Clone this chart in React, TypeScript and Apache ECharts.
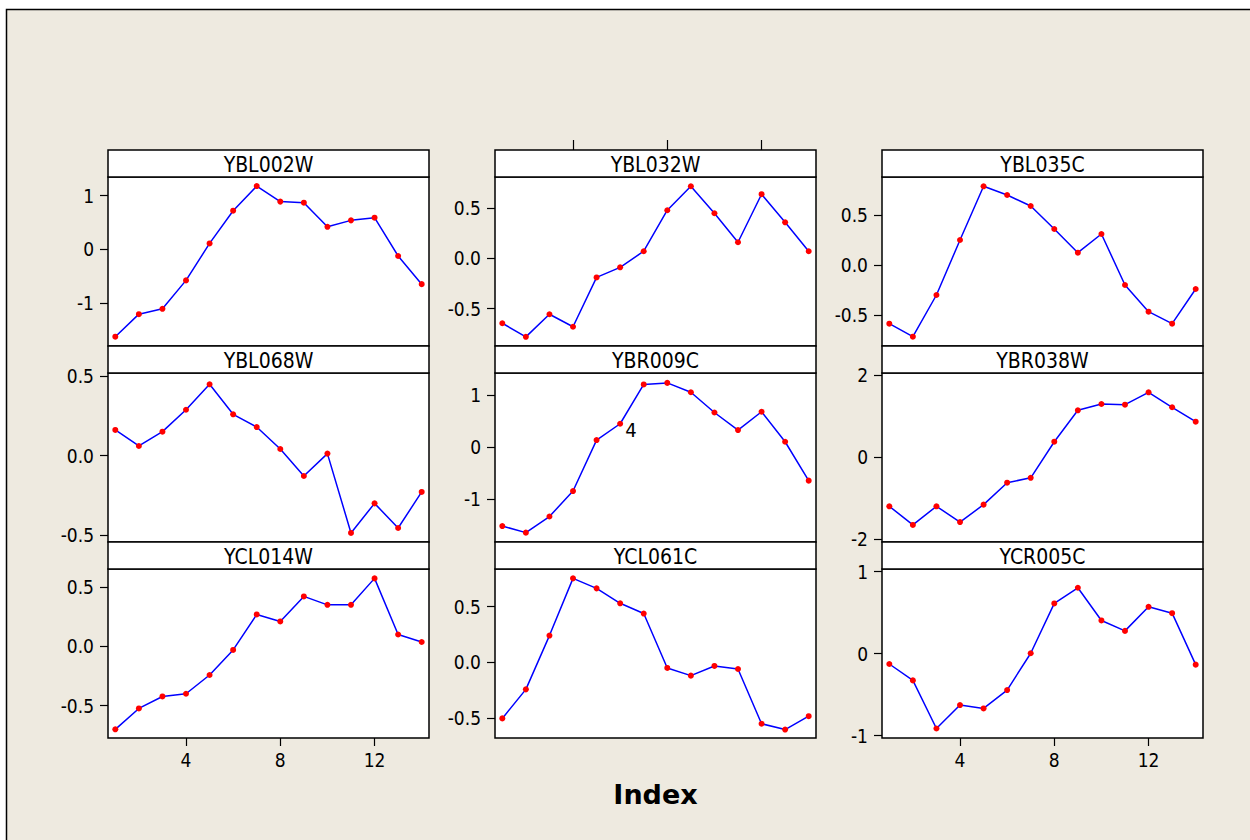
import React, { useEffect, useRef } from "react";
import * as echarts from "echarts";

// ---- data ----
const indexValues = [1, 2, 3, 4, 5, 6, 7, 8, 9, 10, 11, 12, 13, 14];
const panelNames = ["YBL002W", "YBL032W", "YBL035C", "YBL068W", "YBR009C", "YBR038W", "YCL014W", "YCL061C", "YCR005C"];

const ybl002w = [-1.63, -1.21, -1.11, -0.58, 0.11, 0.72, 1.18, 0.89, 0.87, 0.42, 0.54, 0.59, -0.125, -0.65];
const ybl032w = [-0.645, -0.78, -0.556, -0.68, -0.19, -0.09, 0.07, 0.477, 0.715, 0.447, 0.159, 0.636, 0.357, 0.07];
const ybl035c = [-0.587, -0.717, -0.3, 0.25, 0.787, 0.7, 0.59, 0.36, 0.123, 0.31, -0.2, -0.467, -0.587, -0.24];
const ybl068w = [0.162, 0.061, 0.151, 0.289, 0.449, 0.26, 0.18, 0.042, -0.128, 0.013, -0.486, -0.3, -0.455, -0.228];
const ybr009c = [-1.513, -1.64, -1.33, -0.84, 0.14, 0.454, 1.21, 1.24, 1.06, 0.67, 0.333, 0.685, 0.108, -0.64];
const ybr038w = [-1.195, -1.65, -1.195, -1.58, -1.155, -0.62, -0.5, 0.38, 1.146, 1.3, 1.283, 1.585, 1.22, 0.868];
const ycl014w = [-0.7, -0.524, -0.423, -0.4, -0.242, -0.031, 0.268, 0.209, 0.42, 0.349, 0.349, 0.572, 0.099, 0.036];
const ycl061c = [-0.504, -0.243, 0.24, 0.754, 0.664, 0.53, 0.438, -0.051, -0.12, -0.033, -0.06, -0.552, -0.604, -0.484];
const ycr005c = [-0.127, -0.327, -0.914, -0.628, -0.669, -0.445, 0.004, 0.612, 0.803, 0.404, 0.277, 0.571, 0.493, -0.135];

const seriesValues = [ybl002w, ybl032w, ybl035c, ybl068w, ybr009c, ybr038w, ycl014w, ycl061c, ycr005c];

const yMins = [-1.804, -0.871, -0.81, -0.543, -1.82, -2.066, -0.773, -0.68, -1.03];
const yMaxs = [1.349, 0.807, 0.88, 0.52, 1.43, 2.056, 0.651, 0.838, 1.032];
const yTicks = [
  [-1, 0, 1],
  [-0.5, 0, 0.5],
  [-0.5, 0, 0.5],
  [-0.5, 0, 0.5],
  [-1, 0, 1],
  [-2, 0, 2],
  [-0.5, 0, 0.5],
  [-0.5, 0, 0.5],
  [-1, 0, 1],
];
const yDecimals = [0, 1, 1, 1, 0, 0, 1, 1, 0];
const xTicks = [4, 8, 12];
const xMin = 0.69;
const xMax = 14.31;

// annotation on YBR009C point 6
const flagPanel = 4;
const flagIndex = 5;
const flagText = "4";

export default function App() {
  const ref = useRef<HTMLDivElement>(null);

  useEffect(() => {
    if (!ref.current) return;
    const chart = echarts.init(ref.current, undefined, { renderer: "svg" });

    const FONT = "'DejaVu Sans Condensed', 'Liberation Sans', sans-serif";
    const colLefts = [108, 495, 882];
    const titleTops = [150, 346, 542];
    const panelW = 321;
    const titleH = 27;
    const plotH = 169;

    const grids: any[] = [];
    const xAxes: any[] = [];
    const yAxes: any[] = [];
    const series: any[] = [];
    const graphics: any[] = [];

    graphics.push({
      type: "rect",
      z: -10,
      silent: true,
      shape: { x: 6.5, y: 9.5, width: 1400, height: 1000 },
      style: { fill: "#EEEAE0", stroke: "#000", lineWidth: 1.5 },
    });

    for (let i = 0; i < 9; i++) {
      const r = Math.floor(i / 3);
      const c = i % 3;
      const left = colLefts[c];
      const tTop = titleTops[r];
      grids.push({
        left,
        top: tTop + titleH,
        width: panelW,
        height: plotH,
        show: true,
        backgroundColor: "#fff",
        borderColor: "#000",
        borderWidth: 1.5,
        containLabel: false,
      });
      const bottomLabels = r === 2 && c !== 1;
      xAxes.push({
        type: "value",
        gridIndex: i,
        min: xMin,
        max: xMax,
        position: "bottom",
        axisLine: { show: false, onZero: false },
        splitLine: { show: false },
        axisTick: {
          show: bottomLabels,
          length: 8,
          customValues: xTicks,
          lineStyle: { color: "#000", width: 1.2 },
        },
        axisLabel: {
          show: bottomLabels,
          customValues: xTicks,
          margin: 12,
          fontSize: 19,
          color: "#000",
          fontFamily: FONT,
        },
      });
      const dec = yDecimals[i];
      yAxes.push({
        type: "value",
        gridIndex: i,
        min: yMins[i],
        max: yMaxs[i],
        axisLine: { show: false, onZero: false },
        splitLine: { show: false },
        axisTick: {
          show: true,
          length: 8,
          customValues: yTicks[i],
          lineStyle: { color: "#000", width: 1.2 },
        },
        axisLabel: {
          show: true,
          customValues: yTicks[i],
          margin: 14,
          fontSize: 19,
          color: "#000",
          fontFamily: FONT,
          formatter: (v: number) => v.toFixed(dec),
        },
      });
      const data: any[] = indexValues.map((x, k) => {
        const pt: any = { value: [x, seriesValues[i][k]] };
        if (i === flagPanel && k === flagIndex) {
          pt.label = {
            show: true,
            formatter: flagText,
            position: "right",
            distance: 2,
            offset: [0, 6],
            fontSize: 20,
            color: "#000",
            fontFamily: FONT,
          };
        }
        return pt;
      });
      series.push({
        type: "line",
        name: panelNames[i],
        xAxisIndex: i,
        yAxisIndex: i,
        data,
        symbol: "circle",
        symbolSize: 6,
        showSymbol: true,
        itemStyle: { color: "#FF0000" },
        lineStyle: { color: "#0000FF", width: 1.5 },
        label: { show: false },
        emphasis: { disabled: true },
      });
      graphics.push({
        type: "rect",
        z: 10,
        silent: true,
        shape: { x: left, y: tTop, width: panelW, height: titleH },
        style: { fill: "#fff", stroke: "#000", lineWidth: 1.5 },
      });
      graphics.push({
        type: "text",
        z: 11,
        silent: true,
        x: left + panelW / 2,
        y: tTop + titleH / 2 + 1,
        style: {
          text: panelNames[i],
          fill: "#000",
          font: `21px ${FONT}`,
          textAlign: "center",
          textVerticalAlign: "middle",
        },
      });
    }

    // top ticks above middle column, first row
    xAxes.push({
      type: "value",
      gridIndex: 1,
      min: xMin,
      max: xMax,
      position: "top",
      offset: titleH,
      axisLine: { show: false, onZero: false },
      splitLine: { show: false },
      axisTick: {
        show: true,
        length: 10,
        customValues: xTicks,
        lineStyle: { color: "#000", width: 1.2 },
      },
      axisLabel: { show: false, customValues: xTicks },
    });

    graphics.push({
      type: "text",
      silent: true,
      x: colLefts[1] + panelW / 2,
      y: 794,
      style: {
        text: "Index",
        fill: "#000",
        font: `bold 27px 'DejaVu Sans', sans-serif`,
        textAlign: "center",
        textVerticalAlign: "middle",
      },
    });

    chart.setOption({
      animation: false,
      backgroundColor: "#ffffff",
      grid: grids,
      xAxis: xAxes,
      yAxis: yAxes,
      series,
      graphic: { elements: graphics },
    });

    return () => chart.dispose();
  }, []);

  return (
    <div
      ref={ref}
      style={{ position: "fixed", left: 0, top: 0, width: 1250, height: 840 }}
    />
  );
}
